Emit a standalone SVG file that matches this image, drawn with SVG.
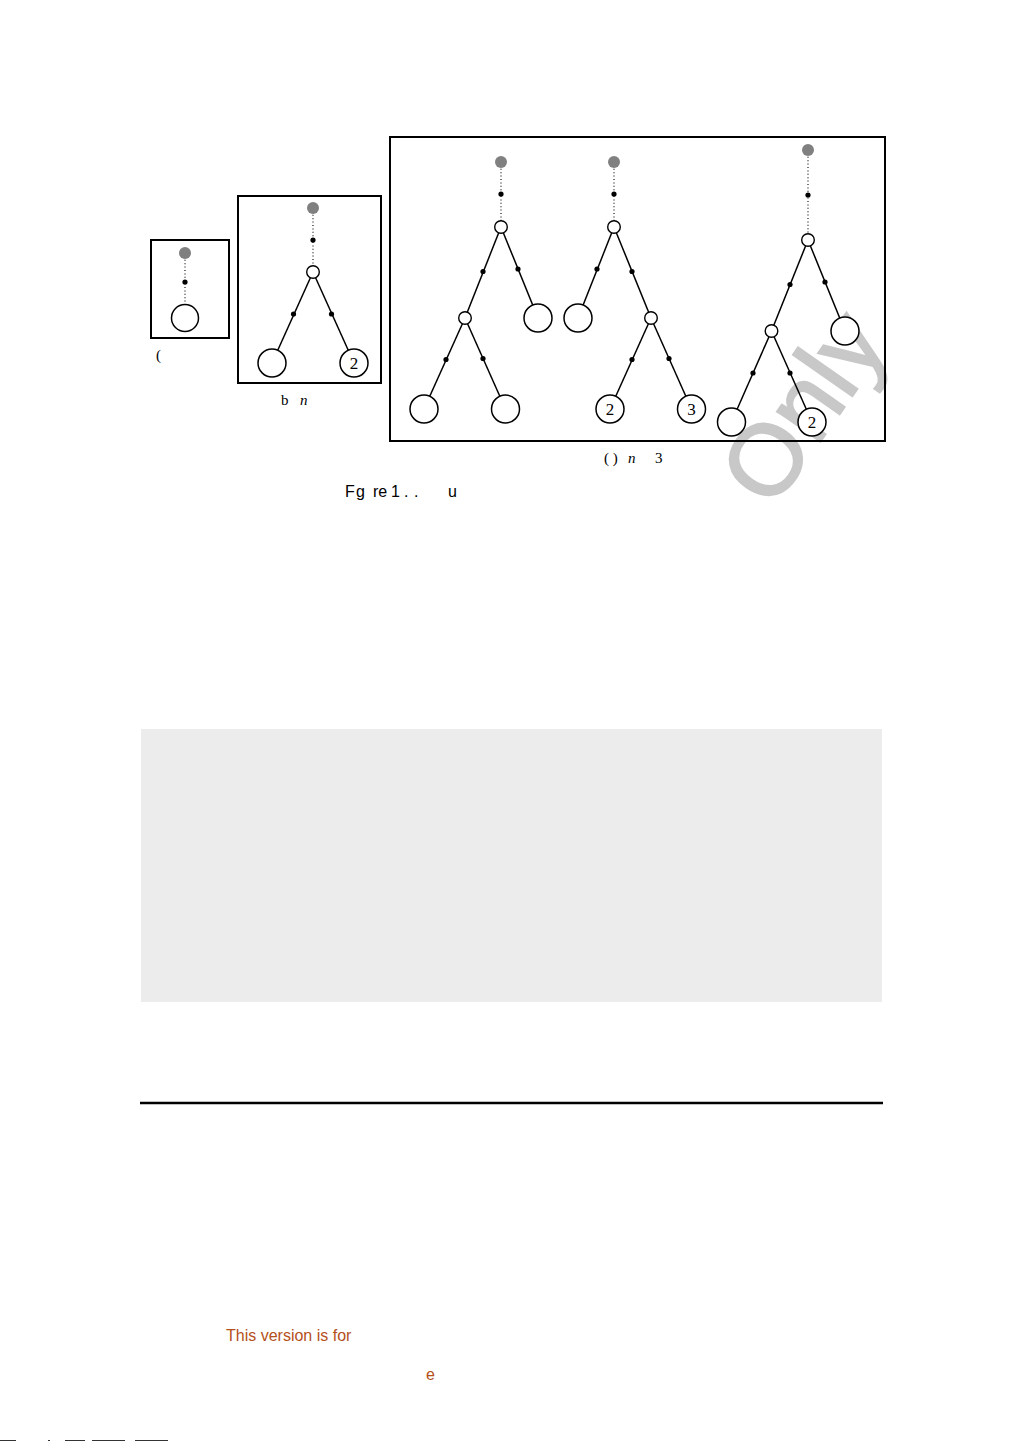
<svg xmlns="http://www.w3.org/2000/svg" width="1009" height="1441" viewBox="0 0 1009 1441">
<style>
.box{fill:none;stroke:#000;stroke-width:2}
.edge{stroke:#000;stroke-width:1.5;fill:none}
.dot{stroke:#000;stroke-width:1.1;stroke-dasharray:1 2.4;fill:none}
.leaf{fill:#fff;stroke:#000;stroke-width:1.5}
.inner{fill:#fff;stroke:#000;stroke-width:1.4}
.root{fill:#808080}
.bd{fill:#000}
.num{font-family:"Liberation Serif",serif;font-size:17px;text-anchor:middle}
.cap{font-family:"Liberation Serif",serif;font-size:15px}
.it{font-style:italic}
.fig{font-family:"Liberation Sans",sans-serif;font-size:16px}
.note{font-family:"Liberation Sans",sans-serif;font-size:16px;fill:#b4501a}
</style>
<rect width="1009" height="1441" fill="#fff"/>
<text x="0" y="0" transform="translate(772,511) rotate(-55)" font-family="Liberation Sans,sans-serif" font-size="100" fill="#c8c8c8" stroke="#c8c8c8" stroke-width="2">Only</text>
<g id="frames">
<rect class="box" x="151" y="240" width="78" height="98"/>
<rect class="box" x="238" y="196" width="143" height="187"/>
<rect class="box" x="390" y="137" width="495" height="304"/>
</g>
<g id="connectors">
<line class="dot" x1="185" y1="253" x2="185" y2="305"/>
<line class="dot" x1="313" y1="208" x2="313" y2="266"/>
<line class="edge" x1="313" y1="272" x2="272" y2="363"/>
<line class="edge" x1="313" y1="272" x2="354" y2="363"/>
<line class="dot" x1="501" y1="162" x2="501" y2="221"/>
<line class="edge" x1="501" y1="227" x2="465" y2="318"/>
<line class="edge" x1="501" y1="227" x2="538" y2="318"/>
<line class="edge" x1="465" y1="318" x2="424" y2="409"/>
<line class="edge" x1="465" y1="318" x2="505.5" y2="409"/>
<line class="dot" x1="614" y1="162" x2="614" y2="221"/>
<line class="edge" x1="614" y1="227" x2="578" y2="318"/>
<line class="edge" x1="614" y1="227" x2="651" y2="318"/>
<line class="edge" x1="651" y1="318" x2="610" y2="409"/>
<line class="edge" x1="651" y1="318" x2="691.5" y2="409"/>
<line class="dot" x1="808" y1="150" x2="808" y2="234"/>
<line class="edge" x1="808" y1="240" x2="771.5" y2="331"/>
<line class="edge" x1="808" y1="240" x2="845" y2="331"/>
<line class="edge" x1="771.5" y1="331" x2="731.5" y2="422"/>
<line class="edge" x1="771.5" y1="331" x2="812" y2="422"/>
</g>
<g id="tree-a">
<circle class="root" cx="185" cy="253" r="6"/>
<circle class="bd" cx="185" cy="282" r="2.6"/>
<circle class="leaf" cx="185" cy="318" r="13.5"/>
</g>
<g id="tree-b">
<circle class="root" cx="313" cy="208" r="6"/>
<circle class="bd" cx="313" cy="240" r="2.6"/>
<circle class="inner" cx="313" cy="272" r="6.3"/>
<circle class="bd" cx="293.5" cy="314" r="2.6"/>
<circle class="bd" cx="331.5" cy="314" r="2.6"/>
<circle class="leaf" cx="272" cy="363" r="14"/>
<circle class="leaf" cx="354" cy="363" r="14"/>
<text class="num" x="354" y="369">2</text>
</g>
<g id="tree-c1">
<circle class="root" cx="501" cy="162" r="6"/>
<circle class="bd" cx="501" cy="194" r="2.6"/>
<circle class="inner" cx="501" cy="227" r="6.3"/>
<circle class="bd" cx="483" cy="271.5" r="2.6"/>
<circle class="bd" cx="518" cy="269" r="2.6"/>
<circle class="inner" cx="465" cy="318" r="6.3"/>
<circle class="leaf" cx="538" cy="318" r="14"/>
<circle class="bd" cx="446" cy="359.5" r="2.6"/>
<circle class="bd" cx="483" cy="358.5" r="2.6"/>
<circle class="leaf" cx="424" cy="409" r="14"/>
<circle class="leaf" cx="505.5" cy="409" r="14"/>
</g>
<g id="tree-c2">
<circle class="root" cx="614" cy="162" r="6"/>
<circle class="bd" cx="614" cy="194" r="2.6"/>
<circle class="inner" cx="614" cy="227" r="6.3"/>
<circle class="bd" cx="597" cy="269" r="2.6"/>
<circle class="bd" cx="632" cy="271.5" r="2.6"/>
<circle class="leaf" cx="578" cy="318" r="14"/>
<circle class="inner" cx="651" cy="318" r="6.3"/>
<circle class="bd" cx="632" cy="359.5" r="2.6"/>
<circle class="bd" cx="669" cy="358.5" r="2.6"/>
<circle class="leaf" cx="610" cy="409" r="14"/>
<text class="num" x="610" y="415">2</text>
<circle class="leaf" cx="691.5" cy="409" r="14"/>
<text class="num" x="691.5" y="415">3</text>
</g>
<g id="tree-c3">
<circle class="root" cx="808" cy="150" r="6"/>
<circle class="bd" cx="808" cy="195" r="2.6"/>
<circle class="inner" cx="808" cy="240" r="6.3"/>
<circle class="bd" cx="790" cy="284.5" r="2.6"/>
<circle class="bd" cx="825" cy="282" r="2.6"/>
<circle class="inner" cx="771.5" cy="331" r="6.3"/>
<circle class="leaf" cx="845" cy="331" r="14"/>
<circle class="bd" cx="753" cy="373" r="2.6"/>
<circle class="bd" cx="790" cy="373" r="2.6"/>
<circle class="leaf" cx="731.5" cy="422" r="14"/>
<circle class="leaf" cx="812" cy="422" r="14"/>
<text class="num" x="812" y="428">2</text>
</g>
<g id="captions">
<text class="cap" x="156" y="360">(</text>
<text class="cap" x="281" y="405">b <tspan class="it" x="300">n</tspan></text>
<text class="cap" x="604" y="463">( ) <tspan class="it" x="628">n</tspan><tspan x="655">3</tspan></text>
<text class="fig" y="497"><tspan x="345">F</tspan><tspan x="356">g</tspan><tspan x="373">re</tspan><tspan x="391">1</tspan><tspan x="404">.</tspan><tspan x="414">.</tspan><tspan x="448">u</tspan></text>
</g>
<rect x="141" y="729" width="741" height="273" fill="#ececec"/>
<line x1="140" y1="1103" x2="883" y2="1103" stroke="#000" stroke-width="2.5"/>
<text class="note" x="226" y="1341">This version is for</text>
<text class="note" x="426" y="1380">e</text>
<g fill="#333">
<rect x="0" y="1440" width="16" height="1"/>
<rect x="48" y="1440" width="2" height="1"/>
<rect x="65" y="1440" width="20" height="1"/>
<rect x="92" y="1440" width="33" height="1"/>
<rect x="135" y="1440" width="33" height="1"/>
</g>
</svg>
